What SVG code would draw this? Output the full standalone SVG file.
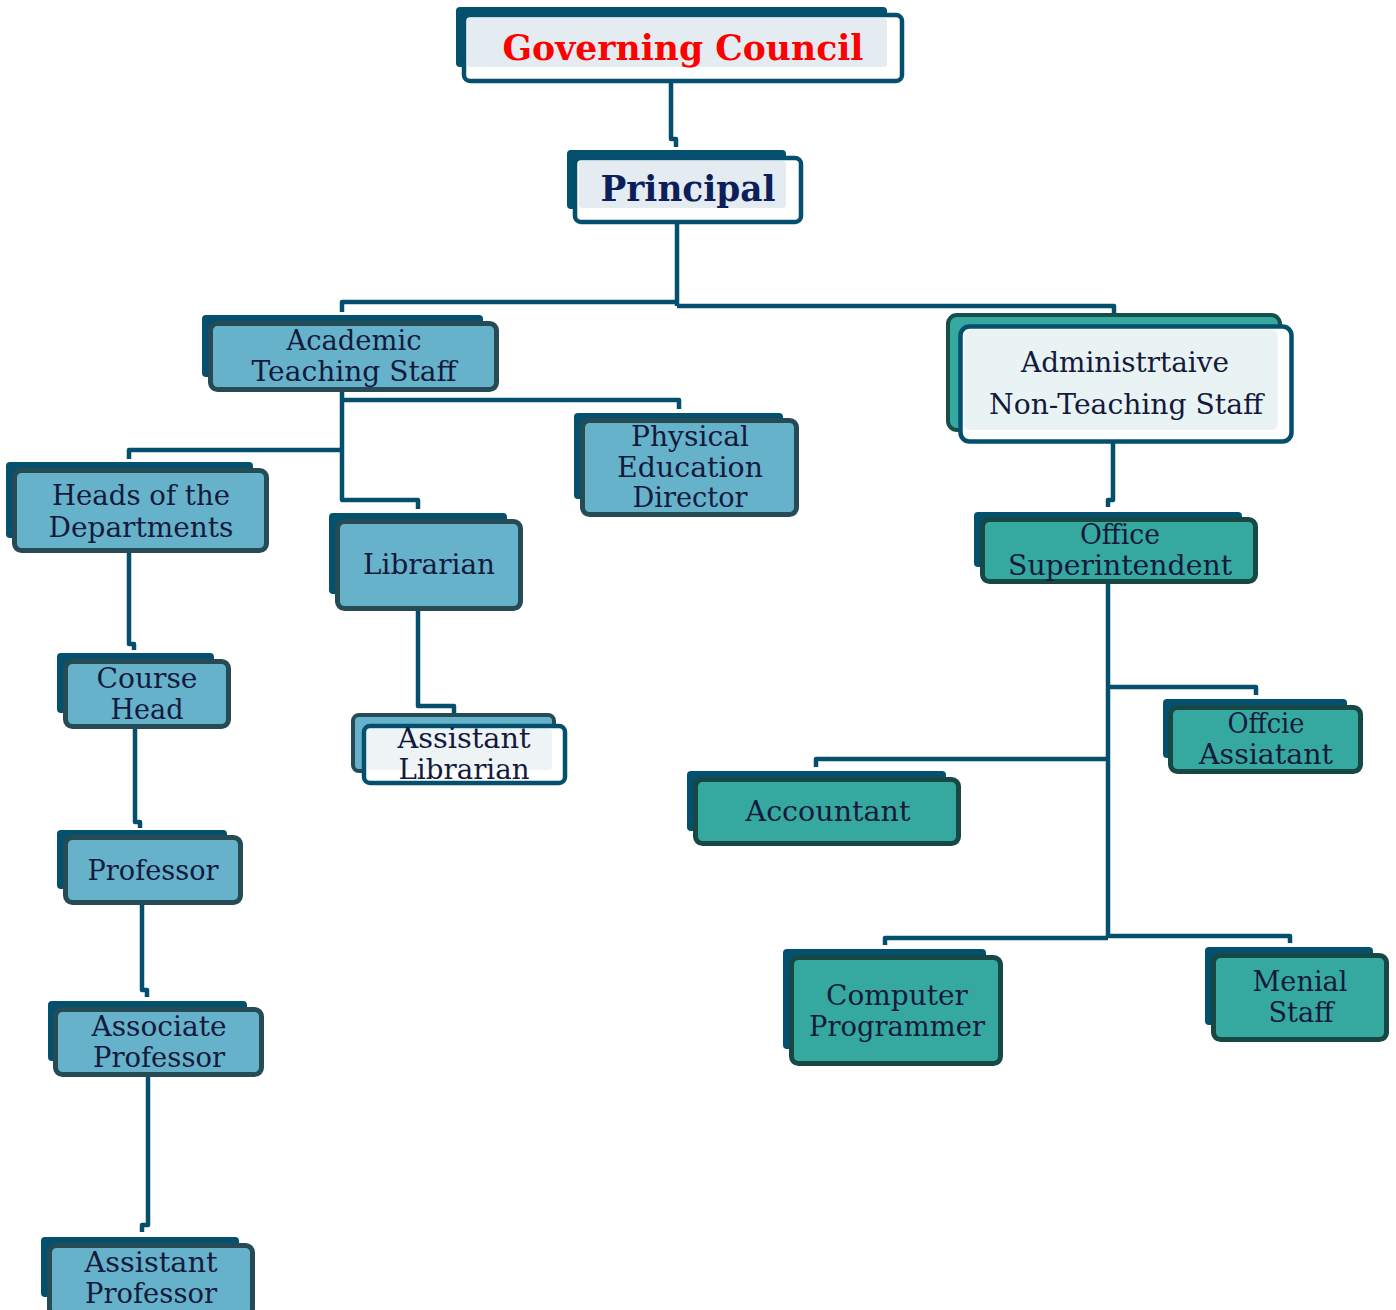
<svg xmlns="http://www.w3.org/2000/svg" width="1396" height="1310" viewBox="0 0 1396 1310">
<style>
.back{fill:#03506f}
.blue{fill:#66b2cb;stroke:#264b55;stroke-width:5}
.teal{fill:#35a99f;stroke:#174843;stroke-width:5}
.white{fill:#ffffff;stroke:#034f6d;stroke-width:4.5}
.lbl{font-family:"DejaVu Serif","Liberation Serif",serif;font-size:28px;fill:#141a3c;text-anchor:middle}
.title{font-family:"DejaVu Serif","Liberation Serif",serif;font-weight:bold;text-anchor:middle}
.conn{fill:none;stroke:#034f6d;stroke-width:4.5;stroke-linejoin:round}
</style>
<rect width="1396" height="1310" fill="#ffffff"/>
<g id="connectors">
<path class="conn" d="M671 82 V139 H676 V147"/>
<path class="conn" d="M677 224 V306"/>
<path class="conn" d="M677 302 H342 V312"/>
<path class="conn" d="M677 306 H1114 V318"/>
<path class="conn" d="M342 391 V500 H418 V509"/>
<path class="conn" d="M342 400 H679 V409"/>
<path class="conn" d="M342 450 H129 V459"/>
<path class="conn" d="M129 552 V644 H134 V650"/>
<path class="conn" d="M135 728 V822 H140 V828"/>
<path class="conn" d="M142 904 V990 H147 V997"/>
<path class="conn" d="M148 1075 V1225 H142 V1232"/>
<path class="conn" d="M418 609 V706 H454 V715"/>
<path class="conn" d="M1113 443 V500 H1108 V507"/>
<path class="conn" d="M1108 583 V938"/>
<path class="conn" d="M1108 687 H1256 V695"/>
<path class="conn" d="M1108 759 H816 V767"/>
<path class="conn" d="M1108 938 H885 V945"/>
<path class="conn" d="M1108 936 H1290 V943"/>
</g>
<g id="governing-council">
<rect class="back" x="456" y="7" width="431" height="60" rx="4"/>
<rect class="white" x="464" y="15" width="438" height="66" rx="6"/>
<rect x="467" y="18" width="420" height="49" rx="3" fill="#e4ecf1"/>
<text class="title" x="683" y="60" font-size="36" fill="#ff0000" textLength="361" lengthAdjust="spacingAndGlyphs">Governing Council</text>
</g>
<g id="principal">
<rect class="back" x="567" y="150" width="219" height="59" rx="4"/>
<rect class="white" x="575" y="158" width="226" height="64" rx="6"/>
<rect x="579" y="161" width="207" height="47" rx="3" fill="#e4ecf1"/>
<text class="title" x="688" y="201" font-size="35" fill="#0c1f5a" textLength="175" lengthAdjust="spacingAndGlyphs">Principal</text>
</g>
<g id="academic">
<rect class="back" x="202" y="315" width="281" height="62" rx="4"/>
<rect class="blue" x="210.5" y="323.5" width="286" height="66" rx="7"/>
<text class="lbl" x="354" y="350" textLength="135" lengthAdjust="spacingAndGlyphs">Academic</text>
<text class="lbl" x="354" y="381" textLength="205" lengthAdjust="spacingAndGlyphs">Teaching Staff</text>
</g>
<g id="heads">
<rect class="back" x="6" y="462" width="247" height="76" rx="4"/>
<rect class="blue" x="14.5" y="470.5" width="252" height="80" rx="7"/>
<text class="lbl" x="141" y="505" textLength="178" lengthAdjust="spacingAndGlyphs">Heads of the</text>
<text class="lbl" x="141" y="537" textLength="185" lengthAdjust="spacingAndGlyphs">Departments</text>
</g>
<g id="librarian">
<rect class="back" x="329" y="513" width="178" height="81" rx="4"/>
<rect class="blue" x="337.5" y="521.5" width="183" height="87" rx="7"/>
<text class="lbl" x="429" y="574" textLength="132" lengthAdjust="spacingAndGlyphs">Librarian</text>
</g>
<g id="physical">
<rect class="back" x="574" y="413" width="209" height="86" rx="4"/>
<rect class="blue" x="582.5" y="420.5" width="214" height="94" rx="7"/>
<text class="lbl" x="690" y="446" textLength="118" lengthAdjust="spacingAndGlyphs">Physical</text>
<text class="lbl" x="690" y="477" textLength="146" lengthAdjust="spacingAndGlyphs">Education</text>
<text class="lbl" x="690" y="507" textLength="115" lengthAdjust="spacingAndGlyphs">Director</text>
</g>
<g id="assistant-librarian">
<rect x="353" y="715" width="201" height="56" rx="6" fill="#66b2cb" stroke="#264b55" stroke-width="4"/>
<rect class="white" x="364" y="726" width="201" height="57" rx="6" stroke-width="4"/>
<rect x="367" y="729" width="185" height="41" rx="3" fill="#eef4f6"/>
<text class="lbl" x="464" y="748" textLength="133" lengthAdjust="spacingAndGlyphs">Assistant</text>
<text class="lbl" x="464" y="779" textLength="131" lengthAdjust="spacingAndGlyphs">Librarian</text>
</g>
<g id="administrative">
<rect x="948" y="315" width="332" height="115" rx="9" fill="#35a99f" stroke="#174f48" stroke-width="4"/>
<rect class="white" x="960.5" y="326.5" width="331" height="115" rx="9" stroke-width="5"/>
<rect x="964" y="330" width="314" height="100" rx="6" fill="#e9f3f4"/>
<text class="lbl" x="1125" y="372" textLength="208" lengthAdjust="spacingAndGlyphs">Administrtaive</text>
<text class="lbl" x="1126" y="414" textLength="274" lengthAdjust="spacingAndGlyphs">Non-Teaching Staff</text>
</g>
<g id="office-superintendent">
<rect class="back" x="974" y="512" width="268" height="55" rx="4"/>
<rect class="teal" x="982.5" y="519.5" width="273" height="62" rx="7"/>
<text class="lbl" x="1120" y="544" textLength="80" lengthAdjust="spacingAndGlyphs">Office</text>
<text class="lbl" x="1120" y="575" textLength="224" lengthAdjust="spacingAndGlyphs">Superintendent</text>
</g>
<g id="office-assistant">
<rect class="back" x="1163" y="699" width="184" height="59" rx="4"/>
<rect class="teal" x="1170.5" y="707.5" width="190" height="64" rx="7"/>
<text class="lbl" x="1266" y="733" textLength="77" lengthAdjust="spacingAndGlyphs">Offcie</text>
<text class="lbl" x="1266" y="764" textLength="134" lengthAdjust="spacingAndGlyphs">Assiatant</text>
</g>
<g id="accountant">
<rect class="back" x="687" y="771" width="259" height="60" rx="4"/>
<rect class="teal" x="695.5" y="779.5" width="263" height="64" rx="7"/>
<text class="lbl" x="828" y="821" textLength="165" lengthAdjust="spacingAndGlyphs">Accountant</text>
</g>
<g id="computer-programmer">
<rect class="back" x="783" y="949" width="203" height="100" rx="4"/>
<rect class="teal" x="791.5" y="957.5" width="209" height="106" rx="7"/>
<text class="lbl" x="897" y="1005" textLength="142" lengthAdjust="spacingAndGlyphs">Computer</text>
<text class="lbl" x="897" y="1036" textLength="176" lengthAdjust="spacingAndGlyphs">Programmer</text>
</g>
<g id="menial-staff">
<rect class="back" x="1205" y="947" width="168" height="78" rx="4"/>
<rect class="teal" x="1213.5" y="955.5" width="173" height="84" rx="7"/>
<text class="lbl" x="1300" y="991" textLength="95" lengthAdjust="spacingAndGlyphs">Menial</text>
<text class="lbl" x="1301" y="1022" textLength="65" lengthAdjust="spacingAndGlyphs">Staff</text>
</g>
<g id="course-head">
<rect class="back" x="57" y="653" width="157" height="60" rx="4"/>
<rect class="blue" x="65.5" y="661.5" width="163" height="65" rx="7"/>
<text class="lbl" x="147" y="688" textLength="101" lengthAdjust="spacingAndGlyphs">Course</text>
<text class="lbl" x="147" y="719" textLength="73" lengthAdjust="spacingAndGlyphs">Head</text>
</g>
<g id="professor">
<rect class="back" x="57" y="830" width="170" height="59" rx="4"/>
<rect class="blue" x="65.5" y="837.5" width="175" height="65" rx="7"/>
<text class="lbl" x="153" y="880" textLength="131" lengthAdjust="spacingAndGlyphs">Professor</text>
</g>
<g id="associate-professor">
<rect class="back" x="48" y="1001" width="199" height="60" rx="4"/>
<rect class="blue" x="55.5" y="1009.5" width="206" height="65" rx="7"/>
<text class="lbl" x="159" y="1036" textLength="135" lengthAdjust="spacingAndGlyphs">Associate</text>
<text class="lbl" x="159" y="1067" textLength="132" lengthAdjust="spacingAndGlyphs">Professor</text>
</g>
<g id="assistant-professor">
<rect class="back" x="41" y="1237" width="198" height="60" rx="4"/>
<rect class="blue" x="49.5" y="1245.5" width="203" height="70" rx="7"/>
<text class="lbl" x="151" y="1272" textLength="133" lengthAdjust="spacingAndGlyphs">Assistant</text>
<text class="lbl" x="151" y="1303" textLength="132" lengthAdjust="spacingAndGlyphs">Professor</text>
</g>
</svg>
